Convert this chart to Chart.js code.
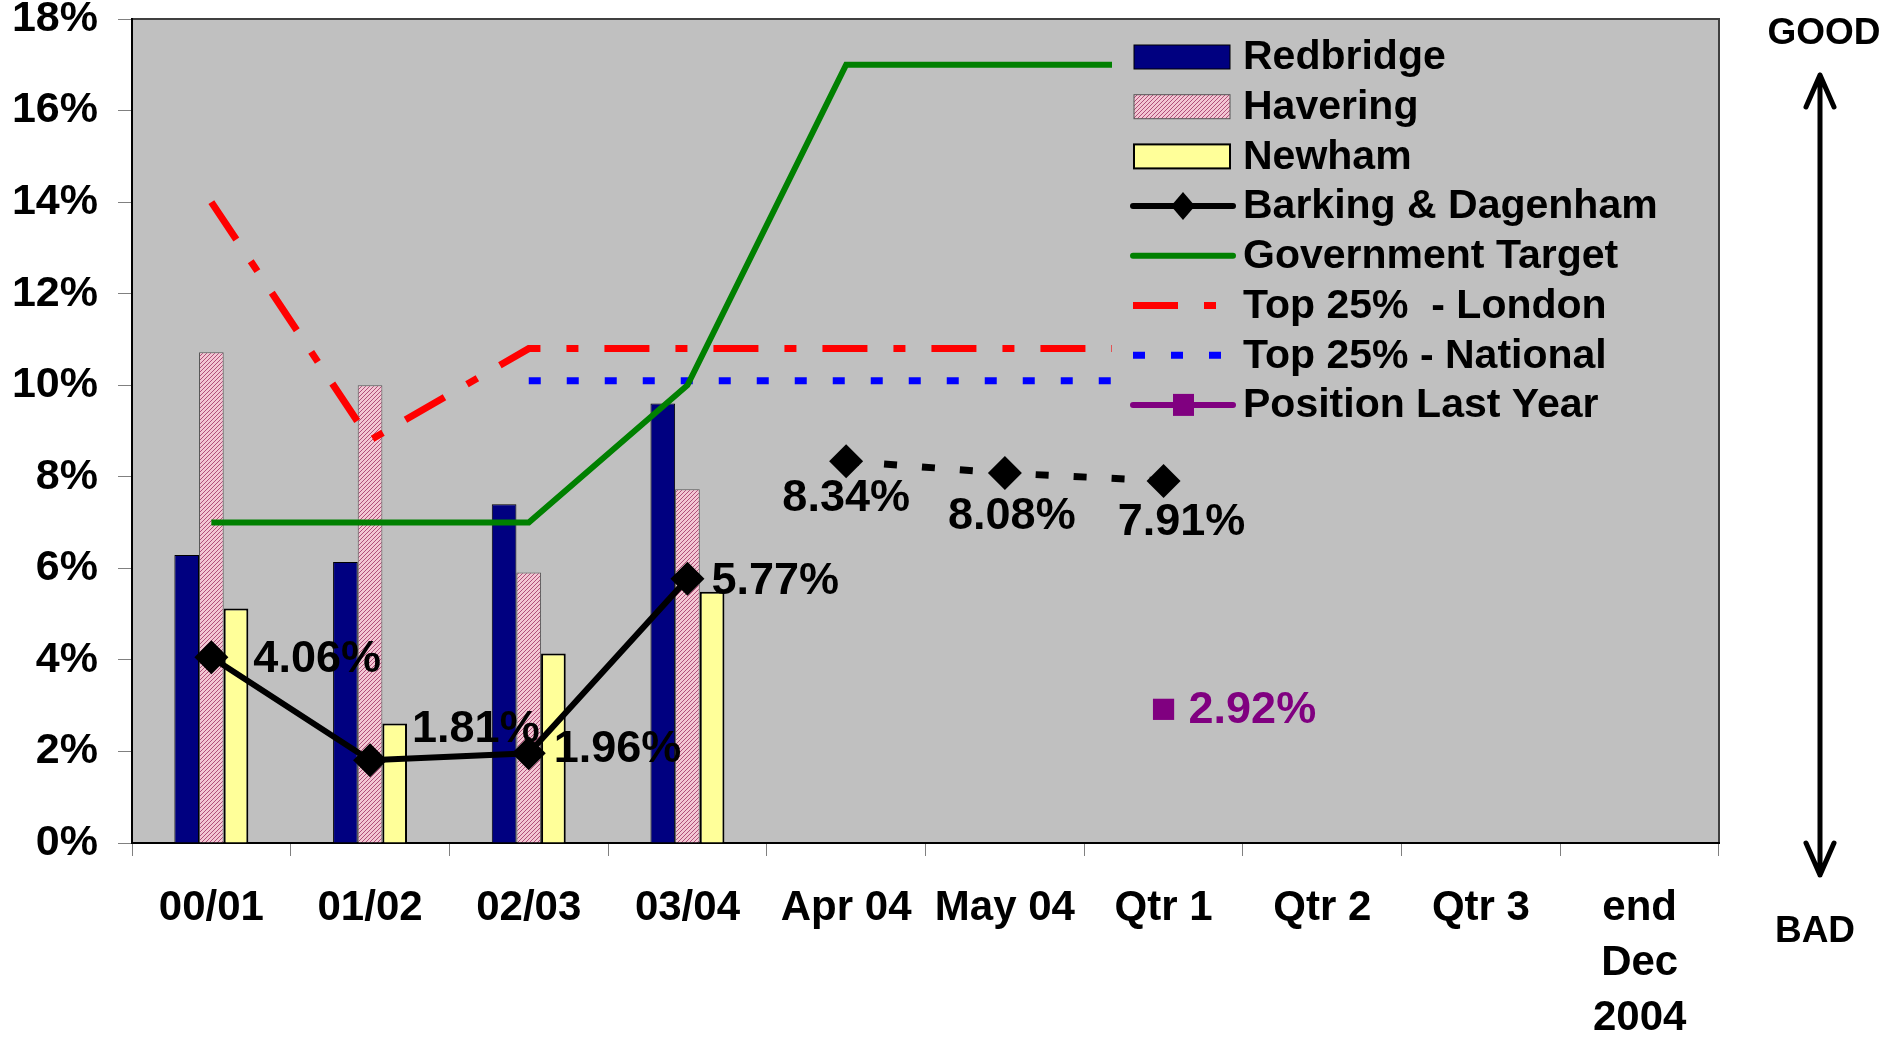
<!DOCTYPE html>
<html>
<head>
<meta charset="utf-8">
<script src="https://cdn.jsdelivr.net/npm/chart.js@4.4.0/dist/chart.umd.min.js"></script>
<style>
  html, body { margin: 0; padding: 0; background: #fff; }
  #chart { display: block; }
</style>
</head>
<body>
<canvas id="chart" width="1895" height="1037"></canvas>
<script>
// Categories and series (values in %)
const categories = ["00/01", "01/02", "02/03", "03/04", "Apr 04", "May 04", "Qtr 1", "Qtr 2", "Qtr 3", ["end", "Dec", "2004"]];
const redbridge = [6.29, 6.14, 7.40, 9.60];
const havering = [10.72, 10.0, 5.91, 7.73];
const newham = [5.12, 2.61, 4.14, 5.49];
const barkingDagenham = [4.06, 1.81, 1.96, 5.77, null, null, null, null, null, null];
const barkingProjected = [null, null, null, null, 8.34, 8.08, 7.91, null, null, null];
const governmentTarget = [7, 7, 7, 10, 17, 17, 17, null, null, null];
const top25London = [14.0, 8.8, 10.8, 10.8, 10.8, 10.8, 10.8, null, null, null];
const top25National = [null, null, 10.1, 10.1, 10.1, 10.1, 10.1, null, null, null];
const positionLastYear = [null, null, null, null, null, null, 2.92, null, null, null];
const yMin = 0, yMax = 18, yStep = 2;

const FONT = '"Liberation Sans", Arial, sans-serif';

// value labels: dataset index, point index, dx, dy, align, colour
const pointLabels = [
  [3, 0, 42, 2, 'left', '#000'],
  [3, 1, 42, -31, 'left', '#000'],
  [3, 2, 25, -4, 'left', '#000'],
  [3, 3, 24, 3, 'left', '#000'],
  [4, 4, 0, 37, 'center', '#000'],
  [4, 5, 7, 43, 'center', '#000'],
  [4, 6, 18, 42, 'center', '#000'],
  [8, 6, 25, 1, 'left', '#800080']
];

// Havering hatch
const canvas = document.getElementById("chart");
const mainCtx = canvas.getContext("2d");
const tile = document.createElement("canvas");
tile.width = 4; tile.height = 4;
const tctx = tile.getContext("2d");
tctx.fillStyle = "#f3c6d3";
tctx.fillRect(0, 0, 4, 4);
tctx.fillStyle = "#b0507a";
for (let i = 0; i < 4; i++) tctx.fillRect(i, 3 - i, 1, 1);
const hatch = mainCtx.createPattern(tile, "repeat");

const plotBackground = {
  id: "plotBackground",
  beforeDraw(chart) {
    const { ctx, chartArea: a } = chart;
    ctx.save();
    ctx.fillStyle = "#fff";
    ctx.fillRect(0, 0, chart.width, chart.height);
    ctx.fillStyle = "#c0c0c0";
    ctx.fillRect(a.left, a.top, a.right - a.left, a.bottom - a.top);
    ctx.strokeStyle = "#404040";
    ctx.lineWidth = 2;
    ctx.strokeRect(a.left, a.top, a.right - a.left, a.bottom - a.top);
    ctx.restore();
  }
};

// legend drawn on top of the lines, like the original
const boxLegend = {
  id: "boxLegend",
  afterDatasetsDraw(chart) {
    const { ctx, chartArea: a } = chart;
    ctx.save();
    ctx.fillStyle = "#c0c0c0";
    ctx.fillRect(a.left + 980, a.top + 2, a.right - a.left - 982, 415);
    const x0 = 1133, x1 = 1233, tx = 1243;
    let y = 57;
    chart.data.datasets.forEach(ds => {
      if (ds.noLegend) return;
      if (ds.type === "bar" || !ds.type) {
        ctx.fillStyle = ds.backgroundColor;
        ctx.fillRect(x0 + 1, y - 12, x1 - x0 - 4, 24);
        ctx.strokeStyle = ds.borderColor;
        ctx.lineWidth = ds.borderWidth;
        ctx.strokeRect(x0 + 1, y - 12, x1 - x0 - 4, 24);
      } else {
        ctx.strokeStyle = ds.borderColor;
        ctx.lineWidth = ds.borderWidth;
        ctx.setLineDash(ds.borderDash || []);
        ctx.lineCap = ds.borderDash ? "butt" : "round";
        ctx.beginPath();
        ctx.moveTo(x0, y);
        ctx.lineTo(x1, y);
        ctx.stroke();
        ctx.setLineDash([]);
        const cx = (x0 + x1) / 2;
        ctx.fillStyle = ds.pointBackgroundColor || ds.borderColor;
        if (ds.pointStyle === "rectRot" && ds.pointRadius) {
          const rx = 12, ry = 14;
          ctx.beginPath();
          ctx.moveTo(cx, y - ry); ctx.lineTo(cx + rx, y); ctx.lineTo(cx, y + ry); ctx.lineTo(cx - rx, y);
          ctx.closePath(); ctx.fill();
        } else if (ds.pointStyle === "rect") {
          ctx.fillRect(cx - 10, y - 11, 21, 22);
        }
      }
      ctx.fillStyle = "#000";
      ctx.font = "bold 41px " + FONT;
      ctx.textAlign = "left";
      ctx.textBaseline = "middle";
      ctx.fillText(ds.label, tx, y + 1);
      y += 49.7;
    });
    ctx.restore();
  }
};

const valueLabels = {
  id: "valueLabels",
  afterDatasetsDraw(chart) {
    const ctx = chart.ctx;
    ctx.save();
    ctx.font = "bold 45px " + FONT;
    ctx.textBaseline = "middle";
    pointLabels.forEach(([d, i, dx, dy, align, color]) => {
      const el = chart.getDatasetMeta(d).data[i];
      const v = chart.data.datasets[d].data[i];
      ctx.fillStyle = color;
      ctx.textAlign = align;
      ctx.fillText(v.toFixed(2) + "%", el.x + dx, el.y + dy);
    });
    ctx.restore();
  }
};

const goodBad = {
  id: "goodBad",
  afterDraw(chart) {
    const { ctx, chartArea: a } = chart;
    const x = a.right + 101;
    ctx.save();
    ctx.fillStyle = "#000";
    ctx.font = "bold 37px " + FONT;
    ctx.textAlign = "center";
    ctx.textBaseline = "middle";
    ctx.fillText("GOOD", x + 4, 34);
    ctx.fillText("BAD", x - 5, 932);
    ctx.strokeStyle = "#000";
    ctx.lineWidth = 5;
    ctx.lineCap = "round";
    ctx.lineJoin = "round";
    ctx.beginPath();
    ctx.moveTo(x, 75); ctx.lineTo(x, 875);
    ctx.moveTo(x - 14, 107); ctx.lineTo(x, 75); ctx.lineTo(x + 14, 107);
    ctx.moveTo(x - 14, 843); ctx.lineTo(x, 875); ctx.lineTo(x + 14, 843);
    ctx.stroke();
    ctx.restore();
  }
};

new Chart(mainCtx, {
  type: "bar",
  data: {
    labels: categories,
    datasets: [
      { type: "bar", label: "Redbridge", data: redbridge, backgroundColor: "#000080", borderColor: "#000", borderWidth: 1, order: 10 },
      { type: "bar", label: "Havering", data: havering, backgroundColor: hatch, borderColor: "#555", borderWidth: 1, order: 10 },
      { type: "bar", label: "Newham", data: newham, backgroundColor: "#ffff99", borderColor: "#000", borderWidth: 2, order: 10 },
      { type: "line", label: "Barking & Dagenham", data: barkingDagenham, borderColor: "#000", borderWidth: 6,
        pointStyle: "rectRot", pointRadius: 17, pointBackgroundColor: "#000", pointBorderWidth: 0, order: 1 },
      { type: "line", label: "Barking projected", noLegend: true, data: barkingProjected, borderColor: "#000", borderWidth: 7,
        borderDash: [13, 25], pointStyle: "rectRot", pointRadius: 17, pointBackgroundColor: "#000", pointBorderWidth: 0, order: 1 },
      { type: "line", label: "Government Target", data: governmentTarget, borderColor: "#008000", borderWidth: 6, pointRadius: 0, order: 3 },
      { type: "line", label: "Top 25%  - London", data: top25London, borderColor: "#ff0000", borderWidth: 7,
        borderDash: [45, 26, 12, 26], pointRadius: 0, order: 3 },
      { type: "line", label: "Top 25% - National", data: top25National, borderColor: "#0000ff", borderWidth: 7,
        borderDash: [12, 26], pointRadius: 0, order: 3 },
      { type: "line", label: "Position Last Year", data: positionLastYear, borderColor: "#800080", borderWidth: 6,
        pointStyle: "rect", pointRadius: 15, pointBackgroundColor: "#800080", pointBorderWidth: 0, showLine: false, order: 1 }
    ]
  },
  options: {
    responsive: false,
    animation: false,
    layout: { padding: { top: 19, right: 176, bottom: 0, left: 0 } },
    datasets: { bar: { categoryPercentage: 0.466, barPercentage: 1.0 } },
    plugins: { legend: { display: false }, tooltip: { enabled: false }, title: { display: false } },
    scales: {
      x: {
        grid: { drawOnChartArea: false, drawTicks: true, tickLength: 13, color: "#808080", offset: true },
        border: { color: "#000", width: 2 },
        ticks: { color: "#000", font: { family: FONT, size: 42, weight: "bold", lineHeight: 1.31 },
                 padding: 25, autoSkip: false, maxRotation: 0, minRotation: 0 },
        afterFit(s) { s.height = 194; s.paddingLeft = 0; s.paddingRight = 0; }
      },
      y: {
        min: yMin, max: yMax,
        grid: { drawOnChartArea: false, drawTicks: true, tickLength: 14, color: "#808080" },
        border: { color: "#000", width: 2 },
        ticks: { stepSize: yStep, color: "#000", font: { family: FONT, size: 43, weight: "bold" }, padding: 20,
                 callback: v => v + "%" },
        afterFit(s) { s.width = 132; s.paddingTop = 0; s.paddingBottom = 0; }
      }
    }
  },
  plugins: [plotBackground, boxLegend, valueLabels, goodBad]
});
</script>
</body>
</html>
